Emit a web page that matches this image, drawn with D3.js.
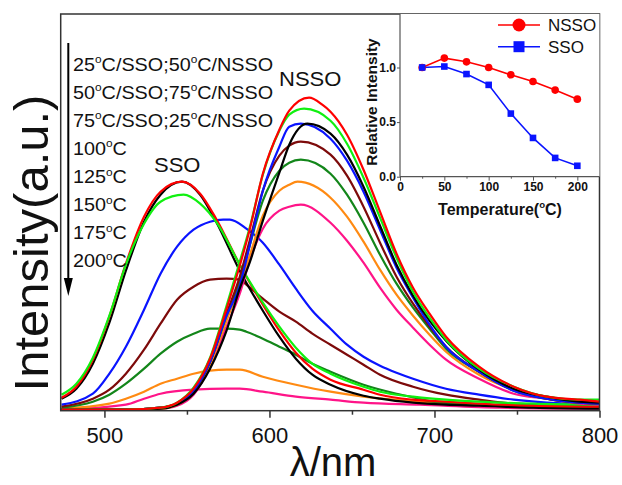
<!DOCTYPE html>
<html>
<head>
<meta charset="utf-8">
<script src="https://cdn.jsdelivr.net/npm/d3@7"></script>
<style>
body{margin:0;background:#fff;}
text{font-family:"Liberation Sans",Arial,sans-serif;fill:#111;}
</style>
</head>
<body>
<svg id="chart" width="622" height="485"></svg>
<script>
// ---- data ----
// emission spectra [wavelength nm, intensity a.u.]
const ssoRed=[[474,13],[483,24],[493,51],[503,94],[513,147],[524,194],[534,219],[547,229],[558,217],[568,191],[582,146],[596,106],[606,80],[616,58],[626,42],[637,31],[657,21],[667,16],[687,11],[707,9],[727,7],[760,5],[800,4]];
const ssoBlack=[[474,12],[483,22],[493,47],[503,88],[513,140],[524,189],[534,216],[547,229],[558,216],[568,188],[582,140],[596,100],[606,74],[616,52],[626,36],[637,26],[657,15],[667,12],[687,8],[707,6],[727,5],[760,3],[800,2]];
const ssoGreen=[[474,16],[483,27],[493,53],[503,95],[513,146],[524,187],[534,209],[548,216],[558,207],[568,188],[582,146],[596,108],[606,84],[616,63],[626,47],[637,37],[657,24],[667,19],[687,14],[707,11],[727,9],[760,7],[800,6]];
const ssoBlue=[[474,6],[493,17],[503,37],[513,64],[524,101],[534,137],[544,164],[554,181],[564,189],[572,191],[576,191],[586,182],[596,168],[606,146],[616,122],[626,100],[637,82],[647,66],[657,54],[667,45],[677,38],[687,32],[707,22],[727,16],[748,11],[768,8],[800,6]];
const ssoWine=[[474,4],[493,12],[503,21],[513,37],[524,61],[534,87],[544,111],[554,124],[564,131],[574,132],[582,131],[586,126],[596,112],[606,99],[616,89],[626,77],[637,66],[647,56],[657,46],[667,36],[687,24],[707,16],[727,11],[748,7],[800,5]];
const ssoOlive=[[474,3],[493,9],[503,16],[513,27],[524,42],[534,57],[544,69],[554,77],[564,82],[574,82],[582,81],[586,79],[596,72],[606,64],[616,56],[626,47],[637,39],[657,26],[677,17],[691,12],[699,9],[739,5],[800,3]];
const ssoOrange=[[474,2],[503,7],[513,12],[524,19],[534,27],[544,32],[554,37],[564,40],[574,41],[582,41],[596,34],[616,26],[637,19],[657,14],[691,9],[739,5],[800,3]];
const ssoPink=[[474,1],[513,6],[524,12],[534,17],[554,21],[574,22],[582,22],[596,19],[616,14],[637,11],[657,8],[691,6],[740,3],[800,2]];

const nssoRed=[[474,1],[513,1],[534,3],[544,8],[554,22],[564,52],[574,102],[582,145],[588,181],[596,237],[606,281],[612,300],[624,313],[632,306],[637,299],[647,276],[657,241],[667,199],[677,157],[687,123],[697,97],[707,74],[727,44],[748,24],[768,14],[788,11],[800,9]];
const nssoGreen=[[474,1],[513,1],[534,3],[544,8],[554,23],[564,53],[574,105],[582,149],[588,183],[596,236],[606,280],[612,296],[621,302],[637,290],[647,267],[657,233],[667,193],[677,153],[687,119],[697,93],[707,71],[727,42],[748,24],[768,14],[788,11],[800,11]];
const nssoBlack=[[474,1],[513,1],[534,2],[544,6],[554,17],[564,42],[574,80],[582,122],[588,148],[596,190],[606,238],[612,266],[623,287],[637,277],[647,256],[657,224],[667,185],[677,146],[687,115],[697,90],[707,70],[727,41],[748,22],[768,14],[788,9],[800,8]];
const nssoBlue=[[474,1],[513,1],[534,3],[544,7],[554,20],[564,49],[574,95],[582,125],[588,165],[596,220],[606,264],[612,284],[619,287],[637,272],[647,250],[657,219],[667,181],[677,143],[687,113],[697,86],[707,64],[727,39],[748,20],[768,12],[788,8],[800,7]];
const nssoWine=[[474,1],[513,1],[534,3],[544,7],[554,20],[564,49],[574,97],[582,134],[588,170],[596,220],[606,255],[612,265],[619,269],[637,256],[647,235],[657,204],[667,168],[677,134],[687,107],[697,84],[707,64],[727,39],[748,21],[768,12],[788,8],[800,7]];
const nssoOlive=[[474,1],[513,1],[534,3],[544,7],[554,20],[564,49],[574,95],[582,130],[588,165],[596,210],[606,240],[612,248],[619,251],[637,237],[647,216],[657,188],[667,156],[677,127],[687,103],[697,82],[707,62],[727,39],[748,20],[768,12],[788,8],[800,7]];
const nssoOrange=[[474,1],[513,1],[534,2],[544,6],[554,18],[564,46],[574,90],[582,125],[588,155],[596,195],[606,220],[612,226],[617,229],[637,213],[647,194],[657,169],[667,141],[677,116],[687,95],[697,76],[707,59],[727,36],[748,21],[768,12],[788,8],[800,7]];
const nssoPink=[[474,1],[513,1],[534,2],[544,5],[554,16],[564,44],[574,84],[582,117],[588,150],[596,182],[606,200],[612,204],[619,206],[637,188],[647,170],[657,148],[667,123],[677,101],[687,83],[697,66],[707,51],[727,32],[748,17],[768,12],[788,7],[800,6]];

const legendLabels=["25°C/SSO;50°C/NSSO","50°C/SSO;75°C/NSSO","75°C/SSO;25°C/NSSO","100°C","125°C","150°C","175°C","200°C"];
const xTicks=[500,600,700,800];
const xMinor=[550,650,750];

// inset: relative intensity vs temperature
const temps=[25,50,75,100,125,150,175,200];
const nssoRel=[1.0,1.086,1.052,1.0,0.933,0.872,0.793,0.71];
const ssoRel=[1.0,1.009,0.94,0.841,0.578,0.355,0.172,0.10];
const insetXTicks=[0,50,100,150,200];
const insetYTicks=[0,0.5,1.0];

const cRed="#ff0000",cGreen="#10f010",cBlack="#000000",cBlue="#0a14ff",
      cWine="#7d0a0a",cOlive="#13861a",cOrange="#ff8a12",cPink="#ff1488";

// drawing order: lowest first
const series=[
  {d:ssoPink,c:cPink},{d:ssoOrange,c:cOrange},{d:ssoOlive,c:cOlive},{d:ssoWine,c:cWine},
  {d:ssoBlue,c:cBlue},{d:ssoBlack,c:cBlack},{d:ssoRed,c:cRed},{d:ssoGreen,c:cGreen},
  {d:nssoPink,c:cPink},{d:nssoOrange,c:cOrange},{d:nssoOlive,c:cOlive},{d:nssoWine,c:cWine},
  {d:nssoBlue,c:cBlue},{d:nssoBlack,c:cBlack},{d:nssoGreen,c:cGreen},{d:nssoRed,c:cRed}
];

var svg=d3.select("#chart");
var L=60.7,R=599.5,T=14,B=410.7;

var x=d3.scaleLinear().domain([473.5,800]).range([L,R]);
var y=d3.scaleLinear().domain([0,396.7]).range([B,T]);

// text with superscript "o" for degree sign
function degText(sel,str,fs){
  let parts=str.split("°");
  parts.forEach(function(p,i){
    let t=sel.append("tspan").text(p);
    if(i>0) t.attr("dy",fs*0.42);
    if(i<parts.length-1){
      sel.append("tspan").text("o").attr("font-size",fs*0.6).attr("dy",-fs*0.42);
    }
  });
}

// curves
var line=d3.line().x(function(d){return x(d[0])}).y(function(d){return y(d[1])}).curve(d3.curveMonotoneX);
svg.append("g").attr("class","curves").selectAll("path").data(series).enter().append("path")
  .attr("d",function(s){return line(s.d)})
  .attr("fill","none")
  .attr("stroke",function(s){return s.c})
  .attr("stroke-width",2.2)
  .attr("stroke-linejoin","round");

// frame
svg.append("rect").attr("x",L).attr("y",T).attr("width",R-L).attr("height",B-T)
  .attr("fill","none").attr("stroke","#333").attr("stroke-width",1.5);

// bottom axis
var xAxis=svg.append("g").attr("transform","translate(0,"+B+")");
xAxis.call(d3.axisBottom(x).tickValues(xTicks).tickSize(7).tickFormat(d3.format("d")));
xAxis.select(".domain").remove();
xAxis.selectAll(".tick line").attr("stroke","#333").attr("stroke-width",1.5);
xAxis.selectAll(".tick text").attr("font-size",22).attr("font-family","Liberation Sans, Arial").attr("fill","#111").attr("dy",null).attr("y",32);
var xm=svg.append("g").attr("transform","translate(0,"+B+")");
xm.call(d3.axisBottom(x).tickValues(xMinor).tickSize(4).tickFormat(""));
xm.select(".domain").remove();
xm.selectAll(".tick line").attr("stroke","#333").attr("stroke-width",1.5);

svg.append("text").attr("x",333).attr("y",476).attr("text-anchor","middle").attr("font-size",40).text("λ/nm");
svg.append("text").attr("transform","translate(48,243) rotate(-90)").attr("text-anchor","middle")
  .attr("font-size",49).text("Intensity(a.u.)");

// temperature list and arrow
var lg=svg.append("g").attr("class","legendText");
legendLabels.forEach(function(s,i){
  let t=lg.append("text").attr("transform","translate(73,"+(70.7+i*28.1)+") scale(1.1,1)").attr("font-size",18);
  degText(t,s,18);
});
svg.append("line").attr("x1",68.3).attr("x2",68.3).attr("y1",43).attr("y2",282).attr("stroke","#000").attr("stroke-width",2);
svg.append("path").attr("d","M63.8,278 L72.8,278 L68.3,296 Z").attr("fill","#000");

svg.append("text").attr("transform","translate(154,172) scale(1.1,1)").attr("font-size",20).text("SSO");
svg.append("text").attr("transform","translate(279,86) scale(1.1,1)").attr("font-size",20).text("NSSO");

// ---- inset ----
var iL=400,iR=599.5,iT=14,iB=176.7;
var ix=d3.scaleLinear().domain([0,225]).range([iL,iR]);
var iy=d3.scaleLinear().domain([0,1.49]).range([iB,iT]);
var inset=svg.append("g").attr("class","inset");
inset.append("rect").attr("x",iL).attr("y",iT).attr("width",iR-iL).attr("height",iB-iT).attr("fill","#fff");
inset.append("line").attr("x1",iL).attr("x2",iL).attr("y1",iT).attr("y2",iB).attr("stroke","#555").attr("stroke-width",1.2);
inset.append("line").attr("x1",iL).attr("x2",iR).attr("y1",iB).attr("y2",iB).attr("stroke","#555").attr("stroke-width",1.2);

var ixa=inset.append("g").attr("transform","translate(0,"+iB+")")
  .call(d3.axisBottom(ix).tickValues(insetXTicks).tickSize(4).tickFormat(d3.format("d")));
ixa.select(".domain").remove();
ixa.selectAll(".tick line").attr("stroke","#555");
ixa.selectAll(".tick text").attr("font-size",12).attr("font-weight","bold").attr("font-family","Liberation Sans, Arial").attr("fill","#222").attr("dy",null).attr("y",14);
var ixm=inset.append("g").attr("transform","translate(0,"+iB+")")
  .call(d3.axisBottom(ix).tickValues([25,75,125,175]).tickSize(2).tickFormat(""));
ixm.select(".domain").remove();
ixm.selectAll(".tick line").attr("stroke","#555");

var iya=inset.append("g").attr("transform","translate("+iL+",0)")
  .call(d3.axisLeft(iy).tickValues(insetYTicks).tickSize(3).tickFormat(d3.format(".1f")));
iya.select(".domain").remove();
iya.selectAll(".tick line").attr("stroke","#555");
iya.selectAll(".tick text").attr("font-size",12).attr("font-weight","bold").attr("font-family","Liberation Sans, Arial").attr("fill","#222").attr("x",-4);

var it=inset.append("text").attr("x",500).attr("y",215).attr("text-anchor","middle").attr("font-size",16).attr("font-weight","bold");
degText(it,"Temperature(°C)",16);
inset.append("text").attr("transform","translate(377,102) rotate(-90)").attr("text-anchor","middle")
  .attr("font-size",15.5).attr("font-weight","bold").text("Relative Intensity");

var iline=function(vals){return d3.line().x(function(d,i){return ix(temps[i])}).y(function(d){return iy(d)})(vals)};
inset.append("path").attr("d",iline(nssoRel)).attr("fill","none").attr("stroke",cRed).attr("stroke-width",1.6);
inset.append("path").attr("d",iline(ssoRel)).attr("fill","none").attr("stroke",cBlue).attr("stroke-width",1.6);
inset.selectAll("circle.n").data(nssoRel).enter().append("circle").attr("class","n")
  .attr("cx",function(d,i){return ix(temps[i])}).attr("cy",function(d){return iy(d)}).attr("r",3.8).attr("fill",cRed);
inset.selectAll("rect.s").data(ssoRel).enter().append("rect").attr("class","s")
  .attr("x",function(d,i){return ix(temps[i])-3.3}).attr("y",function(d){return iy(d)-3.3})
  .attr("width",6.6).attr("height",6.6).attr("fill",cBlue);

// inset legend
inset.append("line").attr("x1",498).attr("x2",540).attr("y1",25).attr("y2",25).attr("stroke",cRed).attr("stroke-width",1.6);
inset.append("circle").attr("cx",519).attr("cy",25).attr("r",6.5).attr("fill",cRed);
inset.append("text").attr("x",548).attr("y",31).attr("font-size",17).text("NSSO");
inset.append("line").attr("x1",498).attr("x2",540).attr("y1",46.7).attr("y2",46.7).attr("stroke",cBlue).attr("stroke-width",1.6);
inset.append("rect").attr("x",513.5).attr("y",41.2).attr("width",11).attr("height",11).attr("fill",cBlue);
inset.append("text").attr("x",548).attr("y",52.5).attr("font-size",17).text("SSO");
</script>
</body>
</html>
